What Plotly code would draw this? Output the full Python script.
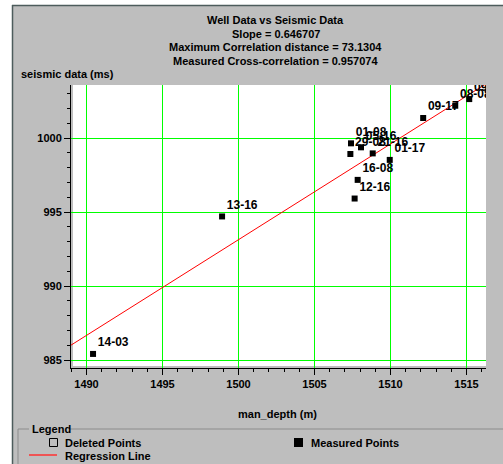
import plotly.graph_objects as go

# Well tie points: depth from the well log vs. picked seismic time
well_depth = [1490.43, 1498.92, 1507.40, 1508.06, 1507.36, 1508.83,
              1509.95, 1507.84, 1507.64, 1512.15, 1514.26, 1515.18]
seismic_time = [985.41, 994.70, 999.64, 999.37, 998.92, 998.96,
                998.52, 997.17, 995.91, 1001.35, 1002.18, 1002.63]
point_names = ["14-03", "13-16", "01-08", "05-16", "29-08", "21-16",
               "01-17", "16-08", "12-16", "09-17", "08-08", "09-08"]

# Regression statistics
slope = 0.646707
max_corr_distance = 73.1304
cross_corr = 0.957074
reg_ref_depth = 1500.0
reg_ref_time = 993.13

W, H = 503, 464
ML, MR, MT, MB = 71, 17, 85, 96
PW, PH = W - ML - MR, H - MT - MB

# axis scales chosen so the grid falls on whole pixels
X_PX_PER_UNIT, Y_PX_PER_UNIT = 15.2, 14.8
x0 = 1490 - 15.5 / X_PX_PER_UNIT
y0 = 985 - 8.0 / Y_PX_PER_UNIT
x_range = [x0, x0 + PW / X_PX_PER_UNIT]
y_range = [y0, y0 + PH / Y_PX_PER_UNIT]

GRAY = "#bebebe"
GREEN = "#00ff00"
FONT = "Liberation Sans"


def px(x):
    return (x - ML) / PW


def py(y):
    return (H - MB - y) / PH


reg_x = list(x_range)
reg_y = [reg_ref_time + slope * (x - reg_ref_depth) for x in reg_x]

fig = go.Figure()

fig.add_trace(go.Scatter(
    x=reg_x, y=reg_y, mode="lines",
    line=dict(color="#ff0000", width=1),
    name="Regression Line", hoverinfo="skip", showlegend=False,
))

fig.add_trace(go.Scatter(
    x=well_depth, y=seismic_time, mode="markers+text",
    marker=dict(symbol="square", size=6, color="black"),
    text=point_names, textposition="top right",
    textfont=dict(family=FONT, size=12, color="black", weight="bold"),
    cliponaxis=True,
    name="Measured Points", showlegend=False,
))

axis_common = dict(
    showline=True, linecolor="black", linewidth=1, mirror=False,
    ticks="outside", ticklen=6, tickcolor="black", tickwidth=1,
    showgrid=True, gridcolor=GREEN, gridwidth=1, zeroline=False,
    tickfont=dict(family=FONT, size=11, color="black", weight="bold"),
    minor=dict(dtick=1, ticks="outside", ticklen=3, tickcolor="black", showgrid=False),
)

fig.update_xaxes(range=x_range, dtick=5, tick0=1490, **axis_common)
fig.update_yaxes(range=y_range, dtick=5, tick0=985, **axis_common)

shapes = [
    # white plotting surface, slightly inset from the axis lines
    dict(type="rect", xref="paper", yref="paper", layer="below",
         x0=px(73), x1=1, y0=py(366), y1=1,
         fillcolor="white", line=dict(width=0)),
    # window edge
    dict(type="rect", xref="paper", yref="paper", layer="below",
         x0=px(0), x1=px(12), y0=py(H), y1=py(0),
         fillcolor="white", line=dict(width=0)),
    dict(type="rect", xref="paper", yref="paper", layer="below",
         x0=px(0), x1=px(W), y0=py(5), y1=py(0),
         fillcolor="white", line=dict(width=0)),
    dict(type="line", xref="paper", yref="paper", layer="below",
         x0=px(12.5), x1=px(12.5), y0=py(5), y1=py(H),
         line=dict(color="#4d5c5c", width=1.5)),
    dict(type="line", xref="paper", yref="paper", layer="below",
         x0=px(12), x1=px(W), y0=py(5.5), y1=py(5.5),
         line=dict(color="#4d5c5c", width=1.5)),
    # legend group frame
    dict(type="line", xref="paper", yref="paper", layer="below",
         x0=px(18), x1=px(29), y0=py(429), y1=py(429),
         line=dict(color="#8c8c8c", width=1)),
    dict(type="line", xref="paper", yref="paper", layer="below",
         x0=px(70), x1=px(W), y0=py(429), y1=py(429),
         line=dict(color="#8c8c8c", width=1)),
    dict(type="line", xref="paper", yref="paper", layer="below",
         x0=px(18), x1=px(18), y0=py(429), y1=py(H),
         line=dict(color="#8c8c8c", width=1)),
    # legend glyphs
    dict(type="rect", xref="paper", yref="paper", layer="above",
         x0=px(49.5), x1=px(57.5), y0=py(446.5), y1=py(438.5),
         fillcolor="rgba(0,0,0,0)", line=dict(color="black", width=1)),
    dict(type="rect", xref="paper", yref="paper", layer="above",
         x0=px(294), x1=px(303), y0=py(447), y1=py(438),
         fillcolor="black", line=dict(width=0)),
    dict(type="line", xref="paper", yref="paper", layer="above",
         x0=px(29), x1=px(57), y0=py(455), y1=py(455),
         line=dict(color="#ff3030", width=1.5)),
]

bold = dict(family=FONT, size=11, color="black", weight="bold")


def label(text, x, y, xanchor="left"):
    return dict(text=text, xref="paper", yref="paper", x=px(x), y=py(y),
                xanchor=xanchor, yanchor="middle", showarrow=False, font=bold)


annotations = [
    label("Well Data vs Seismic Data", 275.5, 20.5, "center"),
    label(f"Slope = {slope}", 275.5, 34, "center"),
    label(f"Maximum Correlation distance = {max_corr_distance}", 275.5, 47.5, "center"),
    label(f"Measured Cross-correlation = {cross_corr}", 275.5, 61, "center"),
    label("seismic data (ms)", 19, 74),
    label("man_depth (m)", 277.5, 413.5, "center"),
    label("Legend", 30, 428.5),
    label("Deleted Points", 63, 442.5),
    label("Measured Points", 309, 442.5),
    label("Regression Line", 63, 455.5),
]

fig.update_layout(
    width=W, height=H,
    margin=dict(l=ML, r=MR, t=MT, b=MB, pad=0),
    paper_bgcolor=GRAY, plot_bgcolor=GRAY,
    showlegend=False,
    shapes=shapes, annotations=annotations,
    font=dict(family=FONT, size=11, color="black"),
)

fig.write_html("out.html")
